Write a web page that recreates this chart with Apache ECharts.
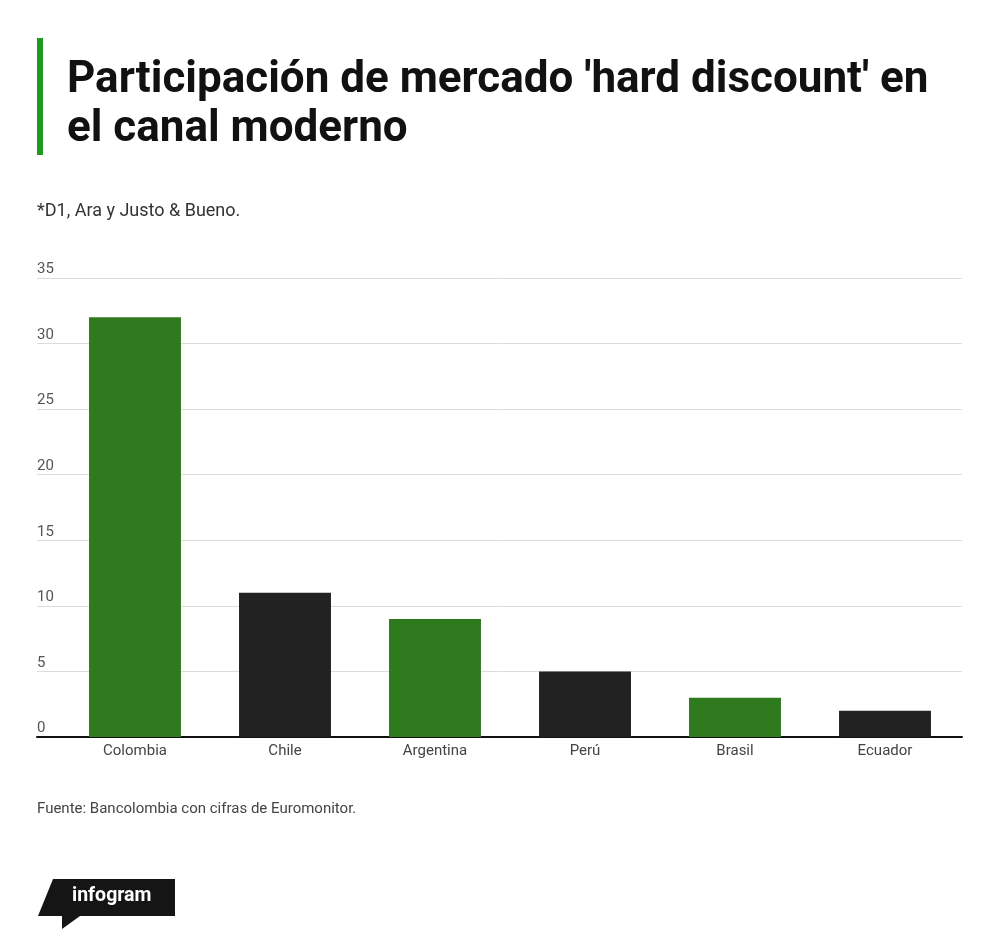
<!DOCTYPE html>
<html><head><meta charset="utf-8">
<script src="https://cdn.jsdelivr.net/npm/echarts@6/dist/echarts.min.js"></script>
<style>html,body{margin:0;padding:0;background:#fff}#c{width:1000px;height:948px}</style>
</head><body><div id="c"></div>
<script>
var categories = ['Colombia','Chile','Argentina','Perú','Brasil','Ecuador'];
var values = [32, 11, 9, 5, 3, 2];
var barColors = ['#2f7a1f','#222222','#2f7a1f','#222222','#2f7a1f','#222222'];
var yTicks = [0,5,10,15,20,25,30,35];
var titleLines = ["Participación de mercado 'hard discount' en", "el canal moderno"];
var subtitle = '*D1, Ara y Justo & Bueno.';
var source = 'Fuente: Bancolombia con cifras de Euromonitor.';

var chart = echarts.init(document.getElementById('c'), null, {renderer:'canvas'});
var GT = 278, GB = 948-737;
chart.setOption({
  animation:false,
  grid:[
    {left:37, right:38, top:GT, bottom:GB},
    {left:60, right:40, top:GT, bottom:GB}
  ],
  xAxis:[
    {gridIndex:0, type:'value', min:0, max:1, show:true,
     axisLine:{show:true, onZero:false, lineStyle:{color:'#111', width:2}},
     axisTick:{show:false}, axisLabel:{show:false}, splitLine:{show:false}},
    {gridIndex:1, type:'category', data:categories,
     axisLine:{show:false}, axisTick:{show:false},
     axisLabel:{color:'#444', fontSize:15, fontFamily:'Roboto, Arial, sans-serif', margin:7}}
  ],
  yAxis:[
    {gridIndex:0, type:'value', min:yTicks[0], max:yTicks[yTicks.length-1], interval:5,
     axisLine:{show:false}, axisTick:{show:false},
     axisLabel:{inside:true, verticalAlign:'bottom', margin:0, padding:[0,0,1,0],
       color:'#555', fontSize:15, fontFamily:'Roboto, Arial, sans-serif'},
     splitLine:{lineStyle:{color:'#dcdcdc', width:1}}},
    {gridIndex:1, type:'value', min:yTicks[0], max:yTicks[yTicks.length-1], interval:5, show:false}
  ],
  series:[{
    type:'bar', xAxisIndex:1, yAxisIndex:1, barWidth:'61.3%',
    data: values.map(function(v,i){return {value:v, itemStyle:{color:barColors[i]}};})
  }],
  graphic:[
    {type:'rect', shape:{x:37, y:38, width:6, height:117}, style:{fill:'#1f9a1f'}},
    {type:'text', x:67, y:59, style:{text:titleLines[0], fill:'#111', font:'bold 44px Roboto, Arial, sans-serif'}},
    {type:'text', x:67, y:108, style:{text:titleLines[1], fill:'#111', font:'bold 44px Roboto, Arial, sans-serif'}},
    {type:'text', x:37, y:202, style:{text:subtitle, fill:'#333', font:'18px Roboto, Arial, sans-serif'}},
    {type:'text', x:37, y:802, style:{text:source, fill:'#444', font:'15px Roboto, Arial, sans-serif'}},
    {type:'polygon', shape:{points:[[53,879],[175,879],[175,916],[80,916],[62,929],[62,916],[38,916]]}, style:{fill:'#151515'}},
    {type:'text', x:72, y:885, scaleX:0.93, style:{text:'infogram', fill:'#fff', font:'bold 21px Roboto, sans-serif'}}
  ]
});
</script></body></html>
